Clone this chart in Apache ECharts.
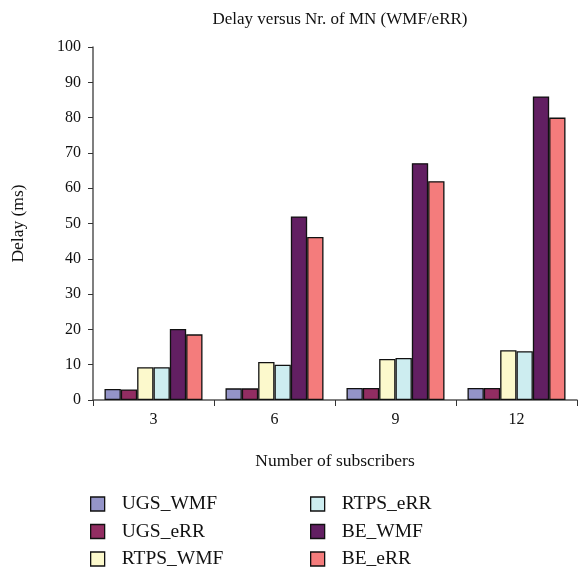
<!DOCTYPE html>
<html>
<head>
<meta charset="utf-8">
<script src="https://cdn.jsdelivr.net/npm/echarts@6/dist/echarts.min.js"></script>
<style>
  html, body { margin: 0; padding: 0; background: #fff; }
  #main { width: 578px; height: 570px; }
</style>
</head>
<body>
<div id="main"></div>
<script>
var categories = ['3', '6', '9', '12'];
var seriesNames = ['UGS_WMF', 'UGS_eRR', 'RTPS_WMF', 'RTPS_eRR', 'BE_WMF', 'BE_eRR'];
var ugsWmf = [3.1, 3.3, 3.4, 3.4];
var ugsErr = [3.0, 3.3, 3.4, 3.4];
var rtpsWmf = [9.3, 10.8, 11.6, 14.1];
var rtpsErr = [9.3, 10.0, 11.9, 13.8];
var beWmf = [20.1, 52, 67.1, 86];
var beErr = [18.6, 46.2, 62, 80];
var colors = ['#9494c8', '#922d62', '#fcf9cc', '#cdedf0', '#621f62', '#f47c7c'];

var font = 'Liberation Serif';
var values = [ugsWmf, ugsErr, rtpsWmf, rtpsErr, beWmf, beErr];

var series = seriesNames.map(function (name, i) {
    return {
        name: name,
        type: 'bar',
        data: values[i],
        barGap: '0%',
        barCategoryGap: '19%',
        itemStyle: { color: colors[i], borderColor: '#111', borderWidth: 1.3 }
    };
});

var legendText = { fontFamily: font, fontSize: 19.5, color: '#111', padding: [0, 0, 0, 12] };

var myChart = echarts.init(document.getElementById('main'));
myChart.setOption({
    animation: false,
    color: colors,
    title: {
        text: 'Delay versus Nr. of MN (WMF/eRR)',
        left: 335,
        top: 6,
        textAlign: 'center',
        textStyle: { fontFamily: font, fontSize: 17, fontWeight: 'normal', color: '#111' }
    },
    legend: [
        {
            data: seriesNames.slice(0, 3),
            orient: 'vertical',
            icon: 'rect',
            left: 90, top: 494, height: 76, padding: 0,
            itemWidth: 14, itemHeight: 14, itemGap: 7.5,
            itemStyle: { borderColor: '#111', borderWidth: 1.3 },
            textStyle: legendText
        },
        {
            data: seriesNames.slice(3),
            orient: 'vertical',
            icon: 'rect',
            left: 310, top: 494, height: 76, padding: 0,
            itemWidth: 14, itemHeight: 14, itemGap: 7.5,
            itemStyle: { borderColor: '#111', borderWidth: 1.3 },
            textStyle: legendText
        }
    ],
    grid: { left: 93, top: 47, right: 1, bottom: 170, containLabel: false },
    xAxis: {
        type: 'category',
        data: categories,
        name: 'Number of subscribers',
        nameLocation: 'middle',
        nameGap: 52,
        nameTextStyle: { fontFamily: font, fontSize: 17.5, color: '#111' },
        axisLine: { lineStyle: { color: '#555', width: 1.5 } },
        axisTick: { show: true, length: 6, lineStyle: { color: '#333' } },
        axisLabel: { fontFamily: font, fontSize: 16, color: '#111', margin: 12 }
    },
    yAxis: {
        type: 'value',
        min: 0, max: 100, interval: 10,
        name: 'Delay (ms)',
        nameLocation: 'middle',
        nameGap: 66,
        nameTextStyle: { fontFamily: font, fontSize: 17.5, color: '#111' },
        axisLine: { show: true, lineStyle: { color: '#555', width: 1.5 } },
        axisTick: { show: true, length: 5, lineStyle: { color: '#333' } },
        axisLabel: { fontFamily: font, fontSize: 16, color: '#111', margin: 12 },
        splitLine: { show: false }
    },
    series: series
});
</script>
</body>
</html>
